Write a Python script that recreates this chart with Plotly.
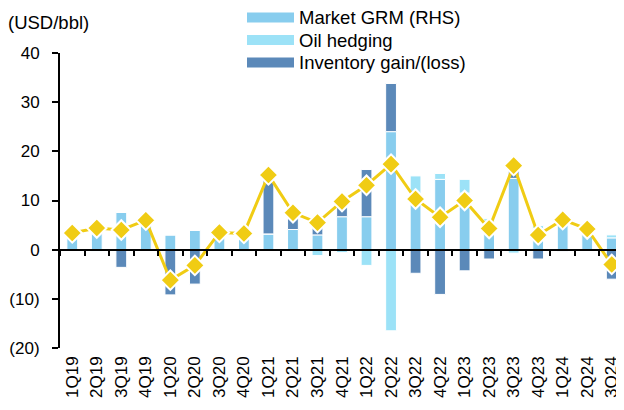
import plotly.graph_objects as go

quarters = ["1Q19", "2Q19", "3Q19", "4Q19", "1Q20", "2Q20", "3Q20", "4Q20",
            "1Q21", "2Q21", "3Q21", "4Q21", "1Q22", "2Q22", "3Q22", "4Q22",
            "1Q23", "2Q23", "3Q23", "4Q23", "1Q24", "2Q24", "3Q24"]
market_grm = [2.7, 4.2, 7.6, 5.9, 3.0, 3.9, 3.2, 3.5, 3.2, 4.1, 3.0, 6.7,
              6.7, 24.0, 10.5, 14.3, 11.5, 5.8, 14.5, 4.3, 6.0, 3.3, 2.4]
oil_hedging = [0.0, -0.3, 0.0, 0.0, 0.0, 0.0, 0.0, -0.4, 0.0, -0.3, -1.2, -0.6,
               -3.2, -16.5, 4.5, 1.2, 2.8, 0.5, -0.7, 0.6, 0.0, 0.0, 0.6]
inventory = [0.7, 0.3, -3.6, 0.1, -9.2, -7.0, 0.3, 0.2, 11.5, 3.0, 3.0, 2.8,
             9.6, 9.8, -4.8, -9.1, -4.3, -1.9, 1.7, -1.9, -0.3, 0.8, -6.0]
total_grm = [3.4, 4.4, 4.0, 6.0, -6.2, -3.2, 3.5, 3.3, 15.2, 7.5, 5.5, 9.8,
             13.1, 17.4, 10.3, 6.6, 10.0, 4.3, 17.1, 3.0, 6.1, 4.2, -3.0]
y_tickvals = [40, 30, 20, 10, 0, -10, -20]
y_ticktext = ["40", "30", "20", "10", "0", "(10)", "(20)"]
legend_labels = ["Market GRM (RHS)", "Oil hedging", "Inventory gain/(loss)"]

C_MKT = "#88CDEE"
C_HEDGE = "#9CE2F7"
C_INV = "#5B89B9"
C_LINE = "#F0CC14"
FONT = "Liberation Sans, Arial, sans-serif"
FS = 18.5
FSX = 17
FSY = 17

# page has an 8px body margin: draw the figure 8px smaller and shift coords
OFF = 8
W, H = 624 - OFF, 410 - OFF
ML, MR, MT, MB = 60 - OFF, 0, 53 - OFF, 62
PW, PH = W - ML - MR, H - MT - MB


def px_x(px):
    return (px - OFF - ML) / PW


def px_y(py):
    return (H - MB - (py - OFF)) / PH


fig = go.Figure()
for name, vals, col in [(legend_labels[0], market_grm, C_MKT),
                        (legend_labels[1], oil_hedging, C_HEDGE),
                        (legend_labels[2], inventory, C_INV)]:
    fig.add_trace(go.Bar(x=quarters, y=vals, name=name, marker_color=col,
                         marker_line=dict(color="white", width=1),
                         showlegend=False))

fig.add_trace(go.Scatter(x=quarters, y=total_grm, xaxis="x2", yaxis="y",
                         mode="lines+markers", showlegend=False,
                         line=dict(color=C_LINE, width=3),
                         marker=dict(symbol="diamond", size=15, color=C_LINE,
                                     line=dict(color="white", width=2))))

shapes = []
annotations = []
for i, (lab, col) in enumerate(zip(legend_labels, [C_MKT, C_HEDGE, C_INV])):
    cy = 17.5 + i * 22.5
    shapes.append(dict(type="rect", xref="paper", yref="paper",
                       x0=px_x(247), x1=px_x(294), y0=px_y(cy - 5), y1=px_y(cy + 5),
                       fillcolor=col, line=dict(width=0)))
    annotations.append(dict(text=lab, xref="paper", yref="paper", x=px_x(297), y=px_y(cy),
                            xanchor="left", yanchor="middle", showarrow=False,
                            font=dict(family=FONT, size=FS, color="black")))

annotations.append(dict(text="(USD/bbl)", xref="paper", yref="paper",
                        x=px_x(6), y=px_y(22), xanchor="left", yanchor="middle",
                        showarrow=False, font=dict(family=FONT, size=FS, color="black")))

fig.update_layout(
    width=W, height=H,
    margin=dict(l=ML, r=MR, t=MT, b=MB, pad=0, autoexpand=False),
    paper_bgcolor="white", plot_bgcolor="white",
    barmode="relative", bargap=0.56,
    font=dict(family=FONT, size=FS, color="black"),
    shapes=shapes, annotations=annotations,
    xaxis=dict(type="category", categoryorder="array", categoryarray=quarters,
               range=[-0.5, 22.5], tickangle=-90, showline=False, ticks="",
               showgrid=False, zeroline=False, ticklabelstandoff=4,
               automargin=False,
               tickfont=dict(family=FONT, size=FSX, color="black")),
    xaxis2=dict(type="category", categoryorder="array", categoryarray=quarters,
                overlaying="x", matches="x", anchor="free", position=1 / 3,
                showline=True, linecolor="black", linewidth=2,
                ticks="outside", tickson="boundaries", ticklen=5, tickwidth=2,
                tickcolor="black", showticklabels=False, showgrid=False,
                zeroline=False, automargin=False),
    yaxis=dict(range=[-20, 40], tickvals=y_tickvals, ticktext=y_ticktext,
               showline=True, linecolor="black", linewidth=2,
               ticks="outside", ticklen=6, tickwidth=2, tickcolor="black",
               showgrid=False, zeroline=False, ticklabelstandoff=9,
               automargin=False,
               tickfont=dict(family=FONT, size=FSY, color="black")),
)

fig.write_html("out.html")
